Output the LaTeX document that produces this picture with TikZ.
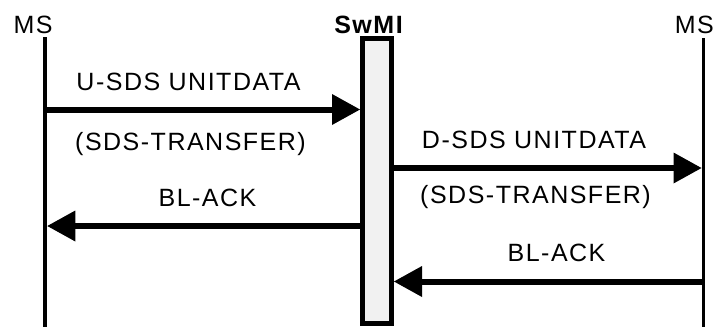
\documentclass[tikz,border=0pt]{standalone}
\usepackage{fontspec}
\setmainfont[LetterSpace=6]{Liberation Sans}
\usetikzlibrary{arrows.meta}

\begin{document}
\begin{tikzpicture}[x=1pt,y=-1pt,
  lbl/.style={anchor=base, inner sep=0pt, font=\fontsize{25}{28}\selectfont},
  msg/.style={line width=6pt, -{Triangle[length=28pt,width=31pt,line width=0pt]}},
  lifeline/.style={line width=#1},
  barbox/.style={draw, line width=5pt, fill=gray!11, inner sep=0pt,
                 minimum width=29pt, minimum height=285pt}
]
\useasboundingbox (0,0) rectangle (714,327);

% entity headings
\node[lbl] (msA) at (33,33) {MS};
\node[lbl] (swmi) at (368.5,33) {\bfseries SwMI};
\node[lbl, anchor=base east] (msB) at (714,33) {MS};

% lifelines
\coordinate (msAtop) at (45,37);
\coordinate (msAbot) at (45,327);
\coordinate (msBtop) at (703,38);
\coordinate (msBbot) at (703,327);
\draw[lifeline=4.5pt] (msAtop) -- (msAbot);
\draw[lifeline=3pt] (msBtop) -- (msBbot);

% SwMI activity bar
\node[barbox] (bar) at (377,181) {};

% message anchors on the MS lifelines
\coordinate (m1) at (45,109.5);
\coordinate (m2) at (701.5,168);
\coordinate (m3) at (47.3,226);
\coordinate (m4) at (703,281.5);

% messages
\draw[msg] (m1) -- (m1 -| bar.west);
\draw[msg] (m2 -| bar.east) -- (m2);
\draw[msg] (m3 -| bar.west) -- (m3);
\draw[msg] (m4) -- (m4 -| bar.east);

% message labels
\node[lbl] (t1) at (188.5,90) {U-SDS UNITDATA};
\node[lbl] (t2) at (190.5,150) {(SDS-TRANSFER)};
\node[lbl] (t3) at (534,148) {D-SDS UNITDATA};
\node[lbl] (t4) at (535.5,203) {(SDS-TRANSFER)};
\node[lbl] (t5) at (207.5,206) {BL-ACK};
\node[lbl] (t6) at (556.5,261.5) {BL-ACK};
\end{tikzpicture}
\end{document}
